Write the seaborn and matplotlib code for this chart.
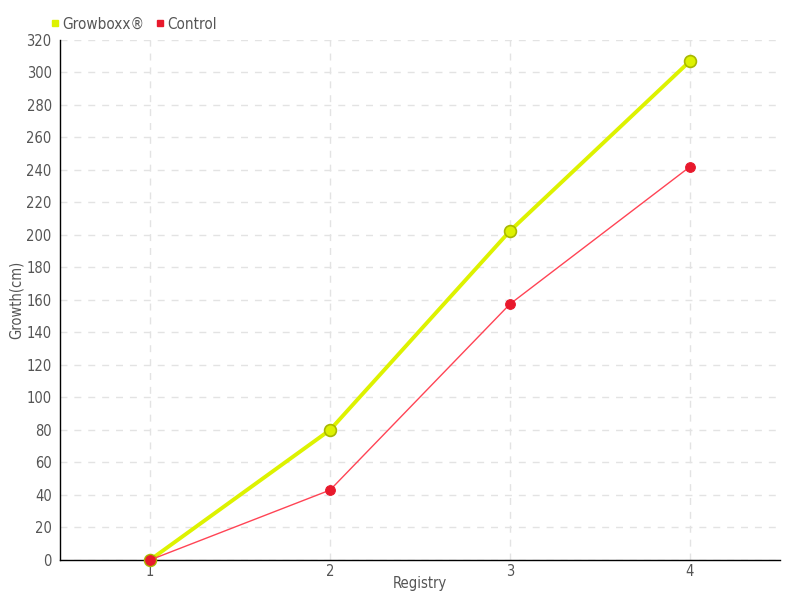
import matplotlib
matplotlib.use("Agg")
import matplotlib.pyplot as plt
import seaborn as sns
import pandas as pd
from matplotlib.lines import Line2D

registry = [1, 2, 3, 4]
growboxx = [0, 80, 202.5, 307]
control = [0, 43, 157.5, 242]
y_ticks = list(range(0, 321, 20))

sns.set_style("white")
plt.rcParams['font.family'] = ['DejaVu Sans']
plt.rcParams['font.stretch'] = 'condensed'

df = pd.DataFrame({
    "Registry": registry * 2,
    "Growth": growboxx + control,
    "Series": ["Growboxx®"] * 4 + ["Control"] * 4,
})

fig = plt.figure(figsize=(8, 6), dpi=100)
ax = fig.add_axes([0.075, 0.0667, 0.9, 0.8667])

text_col = "#555555"
fs = 10.5

sns.lineplot(data=df[df.Series == "Growboxx®"], x="Registry", y="Growth", ax=ax,
             color="#ddf200", linewidth=2.8, marker="o", markersize=8.5,
             markerfacecolor="#ddf200", markeredgecolor="#a8b800", markeredgewidth=1.2,
             legend=False, clip_on=False, zorder=3)
sns.lineplot(data=df[df.Series == "Control"], x="Registry", y="Growth", ax=ax,
             color="#ff4455", linewidth=1, marker="o", markersize=7,
             markerfacecolor="#e8192c", markeredgecolor="#e8192c", legend=False,
             clip_on=False, zorder=4)

ax.set_xlim(0.5, 4.5)
ax.set_ylim(0, 320)
ax.set_xticks(registry)
ax.set_yticks(y_ticks)
ax.grid(True, color="#e3e3e3", linestyle=(0, (5, 5)), linewidth=1)
for s in ["top", "right"]:
    ax.spines[s].set_visible(False)
for s in ["left", "bottom"]:
    ax.spines[s].set_color("black")
    ax.spines[s].set_linewidth(1)
ax.tick_params(axis="both", colors=text_col, labelsize=fs, width=1)
ax.tick_params(axis="y", color="black", length=5, pad=1)
ax.tick_params(axis="x", color="#555555", length=5, pad=-2)
ax.set_xlabel("Registry", color=text_col, fontsize=fs, labelpad=-2)
ax.set_ylabel("Growth(cm)", color=text_col, fontsize=fs, labelpad=2)

handles = [Line2D([], [], marker="s", linestyle="none", color="#ddf200", markersize=5),
           Line2D([], [], marker="s", linestyle="none", color="#e8192c", markersize=5)]
leg = fig.legend(handles, ["Growboxx®", "Control"], loc="upper left",
                 bbox_to_anchor=(0.042, 0.995), ncol=2, frameon=False,
                 handletextpad=0.0, columnspacing=0.5, fontsize=fs + 0.5, handlelength=1.0)
for t in leg.get_texts():
    t.set_color(text_col)

fig.savefig("out.png", dpi=100)
